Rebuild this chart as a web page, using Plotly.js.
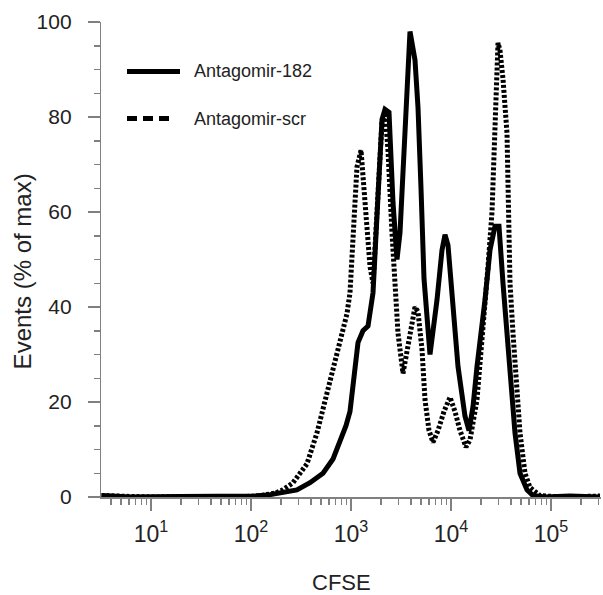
<!DOCTYPE html>
<html>
<head>
<meta charset="utf-8">
<script src="https://cdn.plot.ly/plotly-3.0.1.min.js"></script>
<style>
  html, body { margin: 0; padding: 0; background: #ffffff; }
  #chart { width: 603px; height: 595px; }
</style>
</head>
<body>
<div id="chart"></div>
<script>
// ---- Data (CFSE intensity vs % of max events) ----
const cfse182 = [3.2, 6.2, 19.5, 62, 110, 155, 219, 288, 389, 525, 661, 776, 891, 977, 1096, 1175, 1318, 1479, 1660, 1862, 2042, 2188, 2399, 2630, 2884, 3090, 3467, 3890, 4365, 4677, 5012, 5370, 6166, 7244, 8128, 8710, 9333, 10471, 11749, 13804, 15136, 16596, 18197, 21878, 24547, 27542, 30200, 33113, 38905, 43652, 48978, 57544, 66069, 87096, 154882, 309030];
const events182 = [0.3, 0, 0.1, 0, 0.2, 0.5, 1, 1.5, 3, 5, 8, 11.5, 15, 18, 27.5, 32.5, 35, 36, 43, 62.6, 79.5, 81.6, 81, 62, 50, 55.6, 76.6, 98, 92, 82, 65, 46, 30, 41.5, 52, 55.2, 53, 41.5, 27.5, 17, 14, 19, 27.5, 41.5, 52, 57, 57, 45, 27.5, 13.5, 5, 1.5, 0.3, 0, 0.2, 0];

const cfseScr = [3.2, 10, 30.9, 77.6, 123, 174, 209, 263, 309, 363, 457, 575, 661, 776, 912, 977, 1047, 1148, 1259, 1380, 1549, 1660, 1862, 2042, 2188, 2344, 2570, 2754, 2951, 3311, 3631, 3890, 4365, 4677, 5129, 5495, 6026, 6607, 7413, 8511, 9772, 10965, 12303, 14125, 15488, 18197, 20893, 23442, 25704, 27542, 29512, 30903, 33113, 36308, 38905, 41687, 48978, 54954, 61660, 77625, 123027, 309030];
const eventsScr = [0.3, 0, 0.1, 0, 0.3, 0.8, 1.5, 3, 5, 7, 13.5, 22, 27.5, 33, 38.6, 43, 55.6, 69.5, 73, 62.6, 48.5, 45, 62, 79, 81, 73, 55.6, 43, 34.5, 26, 31, 34.5, 40, 39, 31, 20.5, 14, 11.5, 14, 18, 21, 18, 14, 10.5, 12, 20.5, 34.5, 48.5, 60, 76.6, 95.6, 94, 88, 76.6, 45, 34.5, 13.5, 5, 2, 0.3, 0, 0.2];

const seriesNames = ["Antagomir-182", "Antagomir-scr"];
const xTickVals = [10, 100, 1000, 10000, 100000];
const xTickExp = ["1", "2", "3", "4", "5"];
const yTickVals = [0, 20, 40, 60, 80, 100];
const yTickLabels = ["0", "20", "40", "60", "80", "100"];
const xTitle = "CFSE";
const yTitle = "Events (% of max)";

const NBSP = "\u00a0";
const xTickText = xTickExp.map(e => "10<sup>" + e + "</sup>");
// trailing no-break spaces push the right-aligned labels away from the axis
const yTickText = yTickLabels.map(t => t + NBSP + NBSP);

// minor log ticks at 2..9 of each decade
const minorX = [];
for (let d = 0; d <= 5; d++) {
  for (let m = 2; m <= 9; m++) {
    const v = m * Math.pow(10, d);
    if (v > 3.2 && v < 316000) minorX.push(v);
  }
}

const FONT = "Liberation Sans, Arial, Helvetica, sans-serif";
const AXIS_COLOR = "#808080";
const TEXT_COLOR = "#222222";

const traces = [
  {
    x: cfse182, y: events182, name: seriesNames[0], type: "scatter", mode: "lines",
    line: { color: "#000000", width: 5, dash: "solid" },
    cliponaxis: false, showlegend: false, hoverinfo: "skip"
  },
  {
    x: cfseScr, y: eventsScr, name: seriesNames[1], type: "scatter", mode: "lines",
    line: { color: "#000000", width: 5, dash: "3px,2px" },
    cliponaxis: false, showlegend: false, hoverinfo: "skip"
  }
];

const layout = {
  width: 603, height: 595,
  margin: { l: 101, r: 2, t: 22, b: 98, pad: 0 },
  paper_bgcolor: "#ffffff", plot_bgcolor: "#ffffff",
  font: { family: FONT, color: TEXT_COLOR },
  showlegend: false,
  xaxis: {
    type: "log",
    range: [0.5, 5.5],
    showgrid: false, zeroline: false,
    showline: true, linecolor: AXIS_COLOR, linewidth: 1.5,
    layer: "below traces",
    tickmode: "array", tickvals: xTickVals, ticktext: xTickText,
    ticks: "outside", ticklen: 12, tickwidth: 1.5, tickcolor: AXIS_COLOR,
    ticklabelstandoff: 4,
    tickfont: { family: FONT, size: 23, color: TEXT_COLOR },
    minor: { tickmode: "array", tickvals: minorX, ticks: "outside", ticklen: 6, tickwidth: 1.5, tickcolor: AXIS_COLOR },
    fixedrange: true
  },
  yaxis: {
    range: [0, 100],
    showgrid: false, zeroline: false,
    showline: true, linecolor: AXIS_COLOR, linewidth: 1.5,
    layer: "below traces",
    tickmode: "array", tickvals: yTickVals, ticktext: yTickText,
    ticks: "outside", ticklen: 12, tickwidth: 1.5, tickcolor: AXIS_COLOR,
    tickfont: { family: FONT, size: 21, color: TEXT_COLOR },
    minor: { dtick: 5, ticks: "outside", ticklen: 6, tickwidth: 1.5, tickcolor: AXIS_COLOR },
    fixedrange: true
  },
  annotations: [
    { text: yTitle, xref: "paper", yref: "paper", x: 0, y: 0.475, xshift: -79, textangle: -90,
      xanchor: "center", yanchor: "middle", showarrow: false,
      font: { family: FONT, size: 24, color: TEXT_COLOR } },
    { text: xTitle, xref: "paper", yref: "paper", x: 0.48, y: 0, yshift: -85,
      xanchor: "center", yanchor: "middle", showarrow: false,
      font: { family: FONT, size: 22, color: TEXT_COLOR } },
    { text: seriesNames[0], xref: "paper", yref: "paper", x: (192 - 101) / 500, y: (497.5 - 72) / 475,
      xanchor: "left", yanchor: "middle", showarrow: false,
      font: { family: FONT, size: 18, color: TEXT_COLOR } },
    { text: seriesNames[1], xref: "paper", yref: "paper", x: (192 - 101) / 500, y: (497.5 - 119) / 475,
      xanchor: "left", yanchor: "middle", showarrow: false,
      font: { family: FONT, size: 18, color: TEXT_COLOR } }
  ],
  shapes: [
    { type: "line", xref: "paper", yref: "paper",
      x0: (127 - 101) / 500, x1: (180 - 101) / 500, y0: (497.5 - 72) / 475, y1: (497.5 - 72) / 475,
      line: { color: "#000000", width: 5, dash: "solid" } },
    { type: "line", xref: "paper", yref: "paper",
      x0: (127 - 101) / 500, x1: (173 - 101) / 500, y0: (497.5 - 119) / 475, y1: (497.5 - 119) / 475,
      line: { color: "#000000", width: 5, dash: "10px,6px" } }
  ]
};

Plotly.newPlot("chart", traces, layout, { staticPlot: true, displayModeBar: false });
</script>
</body>
</html>
